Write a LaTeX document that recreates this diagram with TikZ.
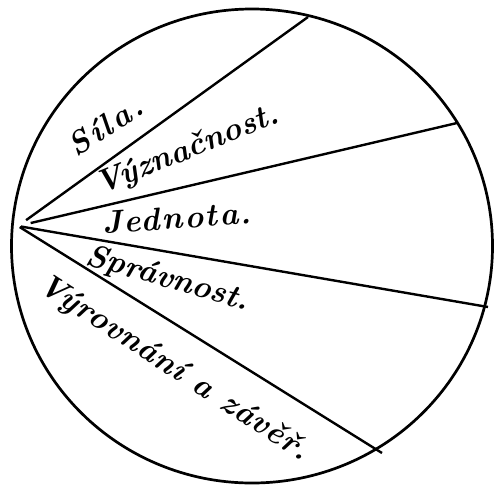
\documentclass[tikz,border=0pt]{standalone}
\usepackage{fontspec}
\setmainfont{Latin Modern Roman}
\begin{document}
\begin{tikzpicture}[x=1pt,y=-1pt,
  rim/.style={line width=2.7pt},
  ray/.style={line width=2.4pt},
  lbl/.style={font=\fontsize{32}{32}\selectfont\bfseries\itshape\addfontfeatures{LetterSpace=#1}, inner sep=0pt, anchor=base west},
  lbl/.default=0]
\useasboundingbox (0,0) rectangle (495,488);
\coordinate (c) at (252,246);
\coordinate (apex) at (18,226);
\coordinate (e1) at (308,17);
\coordinate (e2) at (457,123);
\coordinate (e3) at (488,307);
\coordinate (e4) at (382,453);
\draw[rim] (c) ellipse [x radius=240.5pt, y radius=237pt];
\draw[ray, shorten <=10pt] (apex) -- (e1);
\draw[ray, shorten <=13pt] (apex) -- (e2);
\draw[ray, shorten <=3pt] (apex) -- (e3);
\draw[ray, shorten <=2pt] (apex) -- (e4);
\node[lbl=9, rotate=33] (t1) at (76,158) {Síla.};
\node[lbl=0, rotate=22] (t2) at (100,195) {Význačnost.};
\node[lbl=6, rotate=4] (t3) at (103,234) {Jednota.};
\node[lbl=0, rotate=-16] (t4) at (84,264) {Správnost.};
\node[lbl=2, rotate=-33] (t5) at (36,289) {Výrovnání a závěř.};
\end{tikzpicture}
\end{document}
